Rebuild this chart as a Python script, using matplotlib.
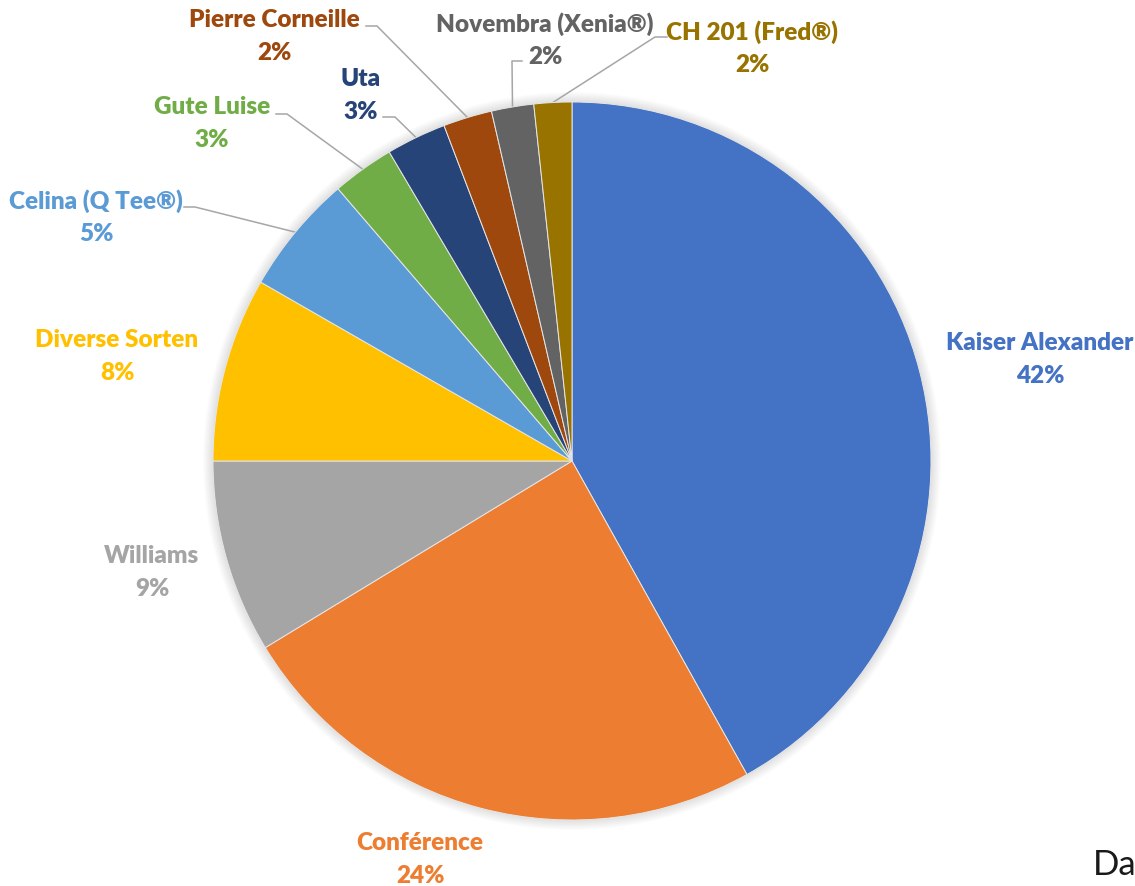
import numpy as np
import matplotlib.pyplot as plt

# pear varieties, share of total (percent)
sorten = ['Kaiser Alexander', 'Conférence', 'Williams', 'Diverse Sorten',
          'Celina (Q Tee®)', 'Gute Luise', 'Uta', 'Pierre Corneille',
          'Novembra (Xenia®)', 'CH 201 (Fred®)']
anteil = [41.9, 24.4, 8.7, 8.3, 5.4, 2.8, 2.7, 2.2, 1.9, 1.7]
farben = ['#4472C4', '#ED7D31', '#A5A5A5', '#FFC000', '#5B9BD5',
          '#70AD47', '#264478', '#9E480E', '#636363', '#997300']

W, H = 1135, 887
cx, cy, r = 572, H - 462, 359

# label centres (pixel coords from top-left) and leader elbows
label_pos = [(1040, 343), (420, 843), (152, 556), (117, 340), (96, 201),
             (212, 107), (361, 79), (274, 20), (545, 24), (752, 32)]
leader = {4: [(184, 208), (195, 208)],
          5: [(276, 115), (287, 115)],
          6: [(383, 118), (395, 118)],
          7: [(366, 27), (377, 27)],
          8: [(522, 62), (512, 62)],
          9: [(667, 38), (655, 38)]}

plt.rcParams['font.family'] = ['Lato', 'DejaVu Sans']

fig = plt.figure(figsize=(W / 100, H / 100), dpi=100)
ax = fig.add_axes([0, 0, 1, 1])

# soft shadow around the pie
for i in range(10):
    ax.add_patch(plt.Circle((cx, cy), r + 10 - i, color='#000000',
                            alpha=0.012, lw=0, zorder=0))

wedges, _ = ax.pie(anteil, colors=farben, startangle=90, counterclock=False,
                   center=(cx, cy), radius=r,
                   wedgeprops=dict(edgecolor='#e6e6e6', linewidth=0.7))
for w in wedges:
    w.set_zorder(2)

for i, w in enumerate(wedges):
    x, y = label_pos[i]
    ax.text(x, H - y, sorten[i], color=farben[i], fontsize=17.5,
            fontweight='heavy', ha='center', va='center', zorder=5)
    ax.text(x, H - y - 33, '%.0f%%' % anteil[i], color=farben[i],
            fontsize=17.5, fontweight='heavy', ha='center', va='center',
            zorder=5)
    if i in leader:
        mid = np.deg2rad((w.theta1 + w.theta2) / 2)
        ex, ey = cx + r * np.cos(mid), cy + r * np.sin(mid)
        (x0, y0), (x1, y1) = leader[i]
        ax.plot([x0, x1, ex], [H - y0, H - y1, ey], color='#A6A6A6',
                lw=1.1, zorder=1)

ax.text(1093, 12, 'Da', fontsize=25, color='#1a1a1a', ha='left',
        va='baseline', family=['Lato', 'DejaVu Sans'])

ax.set_xlim(0, W)
ax.set_ylim(0, H)
ax.set_aspect('equal')
ax.axis('off')

fig.savefig('out.png', dpi=100, facecolor='white')
